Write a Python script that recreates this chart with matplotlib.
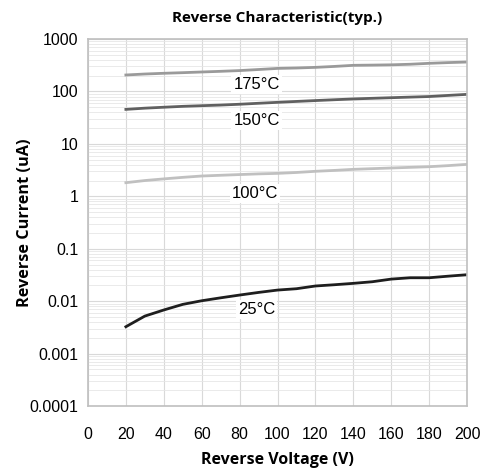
import matplotlib
matplotlib.use('Agg')
import matplotlib.pyplot as plt
from matplotlib.ticker import LogLocator, NullFormatter

# Reverse voltage (V)
voltage = [20, 30, 40, 50, 60, 70, 80, 90, 100, 110, 120, 130, 140, 150, 160, 170, 180, 190, 200]

# Reverse current (uA) per junction temperature
ir_175 = [206, 215, 222, 228, 235, 242, 250, 262, 275, 280, 288, 300, 315, 318, 322, 330, 344, 355, 364]
ir_150 = [45.5, 48, 50, 52, 53.5, 55, 57, 59.5, 62, 64.5, 67, 69.5, 72, 74, 76, 78, 80, 84, 88]
ir_100 = [1.82, 2.0, 2.15, 2.3, 2.44, 2.52, 2.6, 2.68, 2.74, 2.85, 3.0, 3.12, 3.27, 3.37, 3.47, 3.57, 3.67, 3.85, 4.07]
ir_25 = [0.00326, 0.0052, 0.0068, 0.0087, 0.0102, 0.0116, 0.0131, 0.0147, 0.0163, 0.0173,
         0.0195, 0.0206, 0.0219, 0.0235, 0.0264, 0.028, 0.028, 0.030, 0.032]

y_ticks = [0.0001, 0.001, 0.01, 0.1, 1, 10, 100, 1000]
y_labels = ['0.0001', '0.001', '0.01', '0.1', '1', '10', '100', '1000']
x_ticks = [0, 20, 40, 60, 80, 100, 120, 140, 160, 180, 200]

fig = plt.figure(figsize=(4.86, 4.70), dpi=100)
ax = fig.add_axes([0.181, 0.136, 0.78, 0.781])

ax.plot(voltage, ir_175, color='#9a9a9a', lw=2.0)
ax.plot(voltage, ir_150, color='#606060', lw=2.0)
ax.plot(voltage, ir_100, color='#c0c0c0', lw=2.0)
ax.plot(voltage, ir_25, color='#1e1e1e', lw=2.0)

ax.set_yscale('log')
ax.set_xlim(0, 200)
ax.set_ylim(0.0001, 1000)
ax.set_yticks(y_ticks)
ax.set_yticklabels(y_labels)
ax.yaxis.set_minor_locator(LogLocator(base=10, subs=range(2, 10), numticks=20))
ax.yaxis.set_minor_formatter(NullFormatter())
ax.set_xticks(x_ticks)

ax.grid(True, which='major', color='#d9d9d9', lw=0.8)
ax.grid(True, which='minor', axis='y', color='#e6e6e6', lw=0.6)
ax.set_axisbelow(True)
for s in ax.spines.values():
    s.set_color('#bfbfbf')
    s.set_linewidth(1.2)
ax.tick_params(which='both', length=0, labelsize=11.5)
ax.tick_params(axis='x', pad=15)
ax.tick_params(axis='y', pad=7)
for lbl in ax.get_xticklabels() + ax.get_yticklabels():
    lbl.set_fontfamily('Liberation Sans')

box = dict(facecolor='white', edgecolor='none', pad=1.5)
lab_font = dict(fontsize=12, family='Liberation Sans', ha='center', va='center', bbox=box)
ax.text(89, 133, '175°C', **lab_font)
ax.text(89, 27.7, '150°C', **lab_font)
ax.text(88, 1.14, '100°C', **lab_font)
ax.text(89, 0.0068, '25°C', **lab_font)

ax.set_title('Reverse Characteristic(typ.)', fontsize=11, fontweight='bold',
             family='Open Sans', pad=12)
ax.set_xlabel('Reverse Voltage (V)', fontsize=11.5, fontweight='bold', family='Open Sans')
ax.set_ylabel('Reverse Current (uA)', fontsize=11.7, fontweight='bold', family='Open Sans')
ax.xaxis.set_label_coords(0.5, -0.125)
ax.yaxis.set_label_coords(-0.145, 0.5)

fig.savefig('out.png', dpi=100)
